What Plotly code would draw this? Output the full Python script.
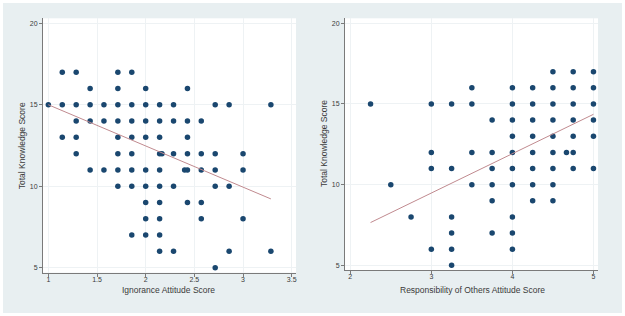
import plotly.graph_objects as go

# ---- Left panel data: Ignorance Attitude Score vs Total Knowledge Score
ign_x = [1.143, 1.286, 1.714, 1.857,
         1.429, 1.714, 2.0, 2.429,
         1.0, 1.143, 1.286, 1.429, 1.571, 1.714, 1.857, 2.0, 2.143, 2.286, 2.714, 2.857, 3.286,
         1.286, 1.429, 1.571, 1.714, 1.857, 2.0, 2.143, 2.286, 2.429, 2.571,
         1.143, 1.286, 1.714, 1.857, 2.0, 2.143, 2.429,
         1.286, 1.714, 1.857, 2.143, 2.167, 2.286, 2.429, 2.571, 2.714, 3.0,
         1.429, 1.571, 1.714, 1.857, 2.0, 2.143, 2.4, 2.429, 2.571, 2.714, 3.0,
         1.714, 1.857, 2.0, 2.143, 2.286, 2.714, 2.857,
         2.0, 2.143, 2.429, 2.571,
         2.0, 2.143, 2.571, 3.0,
         1.857, 2.0, 2.143,
         2.143, 2.286, 2.857, 3.286,
         2.714]
ign_y = [17, 17, 17, 17,
         16, 16, 16, 16,
         15, 15, 15, 15, 15, 15, 15, 15, 15, 15, 15, 15, 15,
         14, 14, 14, 14, 14, 14, 14, 14, 14, 14,
         13, 13, 13, 13, 13, 13, 13,
         12, 12, 12, 12, 12, 12, 12, 12, 12, 12,
         11, 11, 11, 11, 11, 11, 11, 11, 11, 11, 11,
         10, 10, 10, 10, 10, 10, 10,
         9, 9, 9, 9,
         8, 8, 8, 8,
         7, 7, 7,
         6, 6, 6, 6,
         5]
ign_fit_x = [1.0, 3.286]
ign_fit_y = [15.0, 9.22]

# ---- Right panel data: Responsibility of Others Attitude Score
resp_x = [4.5, 4.75, 5.0,
          3.5, 4.0, 4.25, 4.5, 4.75, 5.0,
          2.25, 3.0, 3.25, 3.5, 4.0, 4.25, 4.5, 4.75, 5.0,
          3.75, 4.0, 4.25, 4.5, 4.75, 5.0,
          4.0, 4.25, 4.5, 4.75, 5.0,
          3.0, 3.5, 3.75, 4.0, 4.25, 4.5, 4.667, 4.75,
          3.0, 3.25, 3.75, 4.0, 4.25, 4.5, 4.75, 5.0,
          2.5, 3.5, 3.75, 4.0, 4.25, 4.5,
          3.75, 4.25, 4.5,
          2.75, 3.25, 4.0,
          3.25, 3.75, 4.0,
          3.0, 3.25, 4.0,
          3.25]
resp_y = [17, 17, 17,
          16, 16, 16, 16, 16, 16,
          15, 15, 15, 15, 15, 15, 15, 15, 15,
          14, 14, 14, 14, 14, 14,
          13, 13, 13, 13, 13,
          12, 12, 12, 12, 12, 12, 12, 12,
          11, 11, 11, 11, 11, 11, 11, 11,
          10, 10, 10, 10, 10, 10,
          9, 9, 9,
          8, 8, 8,
          7, 7, 7,
          6, 6, 6,
          5]
resp_fit_x = [2.25, 5.0]
resp_fit_y = [7.65, 14.36]

x1_ticks = [1, 1.5, 2, 2.5, 3, 3.5]
x1_labels = ["1", "1.5", "2", "2.5", "3", "3.5"]
x2_ticks = [2, 3, 4, 5]
y_ticks = [5, 10, 15, 20]

W, H = 625, 316
BG = "#e8eff1"
NAVY = "#1a476f"
LINE = "#c08a8f"
TXT = "#3a3a3a"
AX = "#7a7a7a"
GRID = "#eef2f4"

fig = go.Figure()
mk = dict(color=NAVY, size=5.5)
fig.add_trace(go.Scatter(x=ign_x, y=ign_y, mode="markers", marker=mk, xaxis="x", yaxis="y", showlegend=False))
fig.add_trace(go.Scatter(x=ign_fit_x, y=ign_fit_y, mode="lines", line=dict(color=LINE, width=1), xaxis="x", yaxis="y", showlegend=False))
fig.add_trace(go.Scatter(x=resp_x, y=resp_y, mode="markers", marker=mk, xaxis="x2", yaxis="y2", showlegend=False))
fig.add_trace(go.Scatter(x=resp_fit_x, y=resp_fit_y, mode="lines", line=dict(color=LINE, width=1), xaxis="x2", yaxis="y2", showlegend=False))

tickfont = dict(family="Liberation Sans, Arial", size=7, color=TXT)
common_ax = dict(showline=True, linecolor=AX, linewidth=1, ticks="outside", ticklen=3,
                 tickcolor=AX, tickwidth=1, tickfont=tickfont, showgrid=True,
                 gridcolor=GRID, gridwidth=1, zeroline=False, fixedrange=True)

fig.update_layout(
    width=W, height=H,
    margin=dict(l=0, r=0, t=0, b=0),
    paper_bgcolor=BG, plot_bgcolor="white",
    xaxis=dict(domain=[43/W, 296/W], range=[0.945, 3.544], tickvals=x1_ticks, ticktext=x1_labels,
               anchor="y", ticklabelstandoff=-3, **common_ax),
    yaxis=dict(domain=[(H-272.7)/H, (H-18.3)/H], range=[4.69, 20.31], tickvals=y_ticks,
               anchor="x", **common_ax),
    xaxis2=dict(domain=[345/W, 598/W], range=[1.935, 5.056], tickvals=x2_ticks,
                anchor="y2", ticklabelstandoff=-3, **common_ax),
    yaxis2=dict(domain=[(H-270)/H, (H-18.3)/H], range=[4.71, 20.31], tickvals=y_ticks,
                anchor="x2", **common_ax),
    shapes=[dict(type="rect", xref="paper", yref="paper", x0=0, x1=1, y0=0, y1=1,
                 line=dict(color="white", width=6), fillcolor="rgba(0,0,0,0)", layer="above")],
)

tfont = dict(family="Liberation Sans, Arial", size=8.5, color=TXT)
ann = [
    dict(text="Ignorance Attitude Score", x=169/W, y=(H-290)/H),
    dict(text="Responsibility of Others Attitude Score", x=472/W, y=(H-290)/H),
    dict(text="Total Knowledge Score", x=22.3/W, y=(H-146)/H, textangle=-90),
    dict(text="Total Knowledge Score", x=324/W, y=(H-144)/H, textangle=-90),
]
for a in ann:
    fig.add_annotation(xref="paper", yref="paper", showarrow=False, xanchor="center",
                       yanchor="middle", font=tfont, **a)

fig.write_html("out.html", config={"displayModeBar": False},
               post_script="document.body.style.margin='0';document.body.style.padding='0';")
